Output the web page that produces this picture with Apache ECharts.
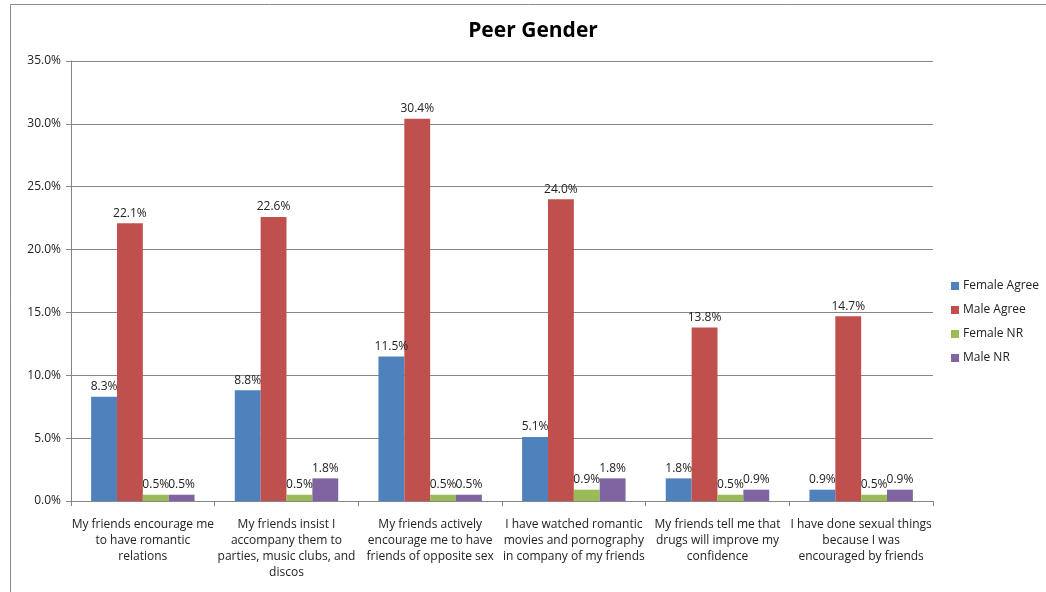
<!DOCTYPE html>
<html>
<head>
<meta charset="utf-8">
<script src="https://cdn.jsdelivr.net/npm/echarts@6/dist/echarts.min.js"></script>
<style>
  html, body { margin: 0; padding: 0; background: #fff; }
  #chart { width: 1046px; height: 592px; }
</style>
</head>
<body>
<div id="chart"></div>
<script>
// categories (line breaks as in the original)
var categories = [
  'My friends encourage me\nto have romantic\nrelations',
  'My friends insist I\naccompany them to\nparties, music clubs, and\ndiscos',
  'My friends actively\nencourage me to have\nfriends of opposite sex',
  'I have watched romantic\nmovies and pornography\nin company of my friends',
  'My friends tell me that\ndrugs will improve my\nconfidence',
  'I have done sexual things\nbecause I was\nencouraged by friends'
];
var femaleAgree = [8.3, 8.8, 11.5, 5.1, 1.8, 0.9];
var maleAgree = [22.1, 22.6, 30.4, 24.0, 13.8, 14.7];
var femaleNR = [0.5, 0.5, 0.5, 0.9, 0.5, 0.5];
var maleNR = [0.5, 1.8, 0.5, 1.8, 0.9, 0.9];

var font = 'Open Sans';
var chart = echarts.init(document.getElementById('chart'));

function bar(name, data, color) {
  return {
    name: name,
    type: 'bar',
    data: data,
    barGap: '0%',
    barCategoryGap: '28%',
    itemStyle: { color: color },
    label: {
      show: true,
      position: 'top',
      distance: 4,
      color: '#222',
      fontFamily: font,
      fontSize: 12,
      formatter: function (p) { return p.value.toFixed(1) + '%'; }
    }
  };
}

chart.setOption({
  animation: false,
  title: {
    text: 'Peer Gender',
    left: 528,
    top: 16,
    textAlign: 'center',
    textStyle: { fontFamily: font, fontSize: 21, fontWeight: 'bold', color: '#000' }
  },
  graphic: [{
    type: 'rect',
    shape: { x: 10.5, y: 4.5, width: 1060, height: 620 },
    style: { fill: 'none', stroke: '#8a8a8a', lineWidth: 1 },
    silent: true
  }],
  legend: {
    orient: 'vertical',
    left: 946,
    top: 275,
    itemWidth: 8,
    itemHeight: 8,
    itemGap: 12,
    icon: 'rect',
    textStyle: { fontFamily: font, fontSize: 12, color: '#222', padding: [0, 0, 0, -1] },
    data: ['Female Agree', 'Male Agree', 'Female NR', 'Male NR']
  },
  grid: { left: 71, right: 113, top: 61, bottom: 91, containLabel: false },
  xAxis: {
    type: 'category',
    data: categories,
    axisLine: { lineStyle: { color: '#868686' } },
    axisTick: { show: true, length: 5, lineStyle: { color: '#868686' } },
    axisLabel: {
      interval: 0,
      margin: 16,
      lineHeight: 16,
      fontFamily: font,
      fontSize: 12,
      color: '#222'
    }
  },
  yAxis: {
    type: 'value',
    min: 0,
    max: 35,
    interval: 5,
    axisLine: { show: true, lineStyle: { color: '#868686' } },
    axisTick: { show: true, length: 5, lineStyle: { color: '#868686' } },
    splitLine: { lineStyle: { color: '#868686' } },
    axisLabel: {
      margin: 10,
      fontFamily: font,
      fontSize: 12,
      color: '#222',
      formatter: function (v) { return v.toFixed(1) + '%'; }
    }
  },
  series: [
    bar('Female Agree', femaleAgree, '#4F81BD'),
    bar('Male Agree', maleAgree, '#C0504D'),
    bar('Female NR', femaleNR, '#9BBB59'),
    bar('Male NR', maleNR, '#8064A2')
  ]
});
</script>
</body>
</html>
